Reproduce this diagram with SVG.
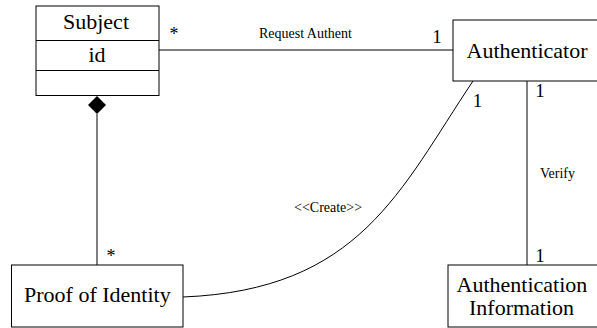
<svg xmlns="http://www.w3.org/2000/svg" width="597" height="328" viewBox="0 0 597 328">
  <rect width="597" height="328" fill="#fff"/>

  <!-- connectors -->
  <g id="connectors" stroke="#000" stroke-width="1" fill="none">
    <line x1="159" y1="50" x2="453" y2="50"/>
    <line x1="97" y1="114" x2="97" y2="265"/>
    <polygon points="97,96 106,105 97,114 88,105" fill="#000" stroke="none"/>
    <line x1="527" y1="81" x2="527" y2="265"/>
    <path d="M183,297 C360,290 400,190 473,81"/>
  </g>

  <!-- connector labels and multiplicities -->
  <g id="connector-labels">
    <text x="259" y="38" font-family="'Liberation Serif', serif" font-size="14">Request Authent</text>
    <text x="169.5" y="40" font-family="'Liberation Serif', serif" font-size="18">*</text>
    <text x="432.2" y="43" font-family="'Liberation Serif', serif" font-size="19">1</text>
    <text x="106.5" y="262" font-family="'Liberation Serif', serif" font-size="18">*</text>
    <text x="472.7" y="107" font-family="'Liberation Serif', serif" font-size="19">1</text>
    <text x="294" y="212" font-family="'Liberation Serif', serif" font-size="14">&lt;&lt;Create&gt;&gt;</text>
    <text x="535.2" y="97" font-family="'Liberation Serif', serif" font-size="19">1</text>
    <text x="540" y="178" font-family="'Liberation Serif', serif" font-size="14">Verify</text>
    <text x="535.2" y="262" font-family="'Liberation Serif', serif" font-size="19">1</text>
  </g>

  <!-- class: Subject -->
  <g id="subject">
    <g fill="#fff" stroke="#000" stroke-width="1">
      <rect x="36" y="6" width="123" height="89.5"/>
      <line x1="36" y1="40.5" x2="159" y2="40.5"/>
      <line x1="36" y1="70.5" x2="159" y2="70.5"/>
    </g>
    <text x="63" y="29" font-family="'Liberation Serif', serif" font-size="22">Subject</text>
    <text x="88.5" y="62" font-family="'Liberation Serif', serif" font-size="22">id</text>
  </g>

  <!-- class: Authenticator -->
  <g id="authenticator">
    <rect x="453" y="20" width="150" height="61" fill="#fff" stroke="#000" stroke-width="1"/>
    <text x="466.5" y="58" font-family="'Liberation Serif', serif" font-size="22">Authenticator</text>
  </g>

  <!-- class: Proof of Identity -->
  <g id="proof-of-identity">
    <rect x="11.5" y="265" width="171.5" height="62" fill="#fff" stroke="#000" stroke-width="1"/>
    <text x="24" y="302" font-family="'Liberation Serif', serif" font-size="22">Proof of Identity</text>
  </g>

  <!-- class: Authentication Information -->
  <g id="authentication-information">
    <rect x="448" y="265" width="155" height="62" fill="#fff" stroke="#000" stroke-width="1"/>
    <text x="456.6" y="292" font-family="'Liberation Serif', serif" font-size="22">Authentication</text>
    <text x="469" y="315" font-family="'Liberation Serif', serif" font-size="22">Information</text>
  </g>
</svg>
